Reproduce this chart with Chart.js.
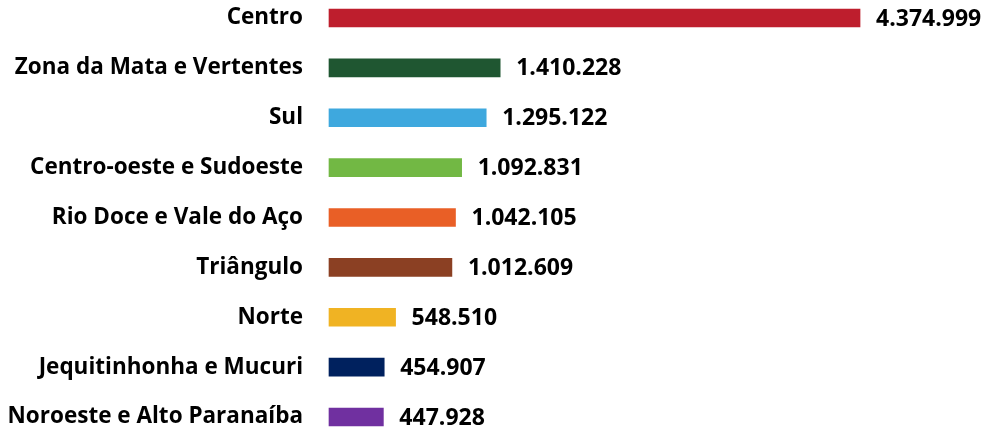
<!DOCTYPE html>
<html>
<head>
<meta charset="utf-8">
<script src="https://cdn.jsdelivr.net/npm/chart.js@4"></script>
<style>
html,body{margin:0;padding:0;background:#fff;}
#wrap{width:987px;height:430px;position:relative;}
</style>
</head>
<body>
<div id="wrap"><canvas id="c" width="987" height="430"></canvas></div>
<script>
const categories = ["Centro","Zona da Mata e Vertentes","Sul","Centro-oeste e Sudoeste","Rio Doce e Vale do Aço","Triângulo","Norte","Jequitinhonha e Mucuri","Noroeste e Alto Paranaíba"];
const values = [4374999,1410228,1295122,1092831,1042105,1012609,548510,454907,447928];
const valueLabels = ["4.374.999","1.410.228","1.295.122","1.092.831","1.042.105","1.012.609","548.510","454.907","447.928"];
const colors = ["#BE1E2D","#1F5631","#3EA8DE","#72B844","#E95F26","#8B4023","#F0B323","#00215E","#7030A0"];

const FONT = "'Open Sans', 'Noto Sans', sans-serif";

const valuePlugin = {
  id: 'valueLabels',
  afterDatasetsDraw(chart) {
    const ctx = chart.ctx;
    const meta = chart.getDatasetMeta(0);
    ctx.save();
    ctx.font = "bold 23px " + FONT;
    ctx.fillStyle = "#000";
    ctx.textAlign = "left";
    ctx.textBaseline = "middle";
    meta.data.forEach((bar, i) => {
      ctx.fillText(valueLabels[i], bar.x + 16, bar.y + 1);
    });
    ctx.restore();
  }
};

new Chart(document.getElementById('c'), {
  type: 'bar',
  data: {
    labels: categories,
    datasets: [{
      data: values,
      backgroundColor: colors,
      borderWidth: 0,
      barThickness: 18,
      clip: false
    }]
  },
  options: {
    indexAxis: 'y',
    responsive: false,
    animation: false,
    layout: { padding: { top: 18, bottom: 13, left: 0, right: 0 } },
    plugins: { legend: { display: false }, tooltip: { enabled: false } },
    scales: {
      x: { display: false, min: 0, max: 5421000 },
      y: {
        offset: false,
        grid: { display: false, drawTicks: false },
        border: { display: false },
        afterFit(scale) {
          scale.width = 329;
          scale.paddingTop = 0;
          scale.paddingBottom = 0;
        },
        ticks: {
          color: "#000",
          padding: 26,
          font: { family: FONT, size: 22.5, weight: 'bold' }
        }
      }
    }
  },
  plugins: [valuePlugin]
});
</script>
</body>
</html>
